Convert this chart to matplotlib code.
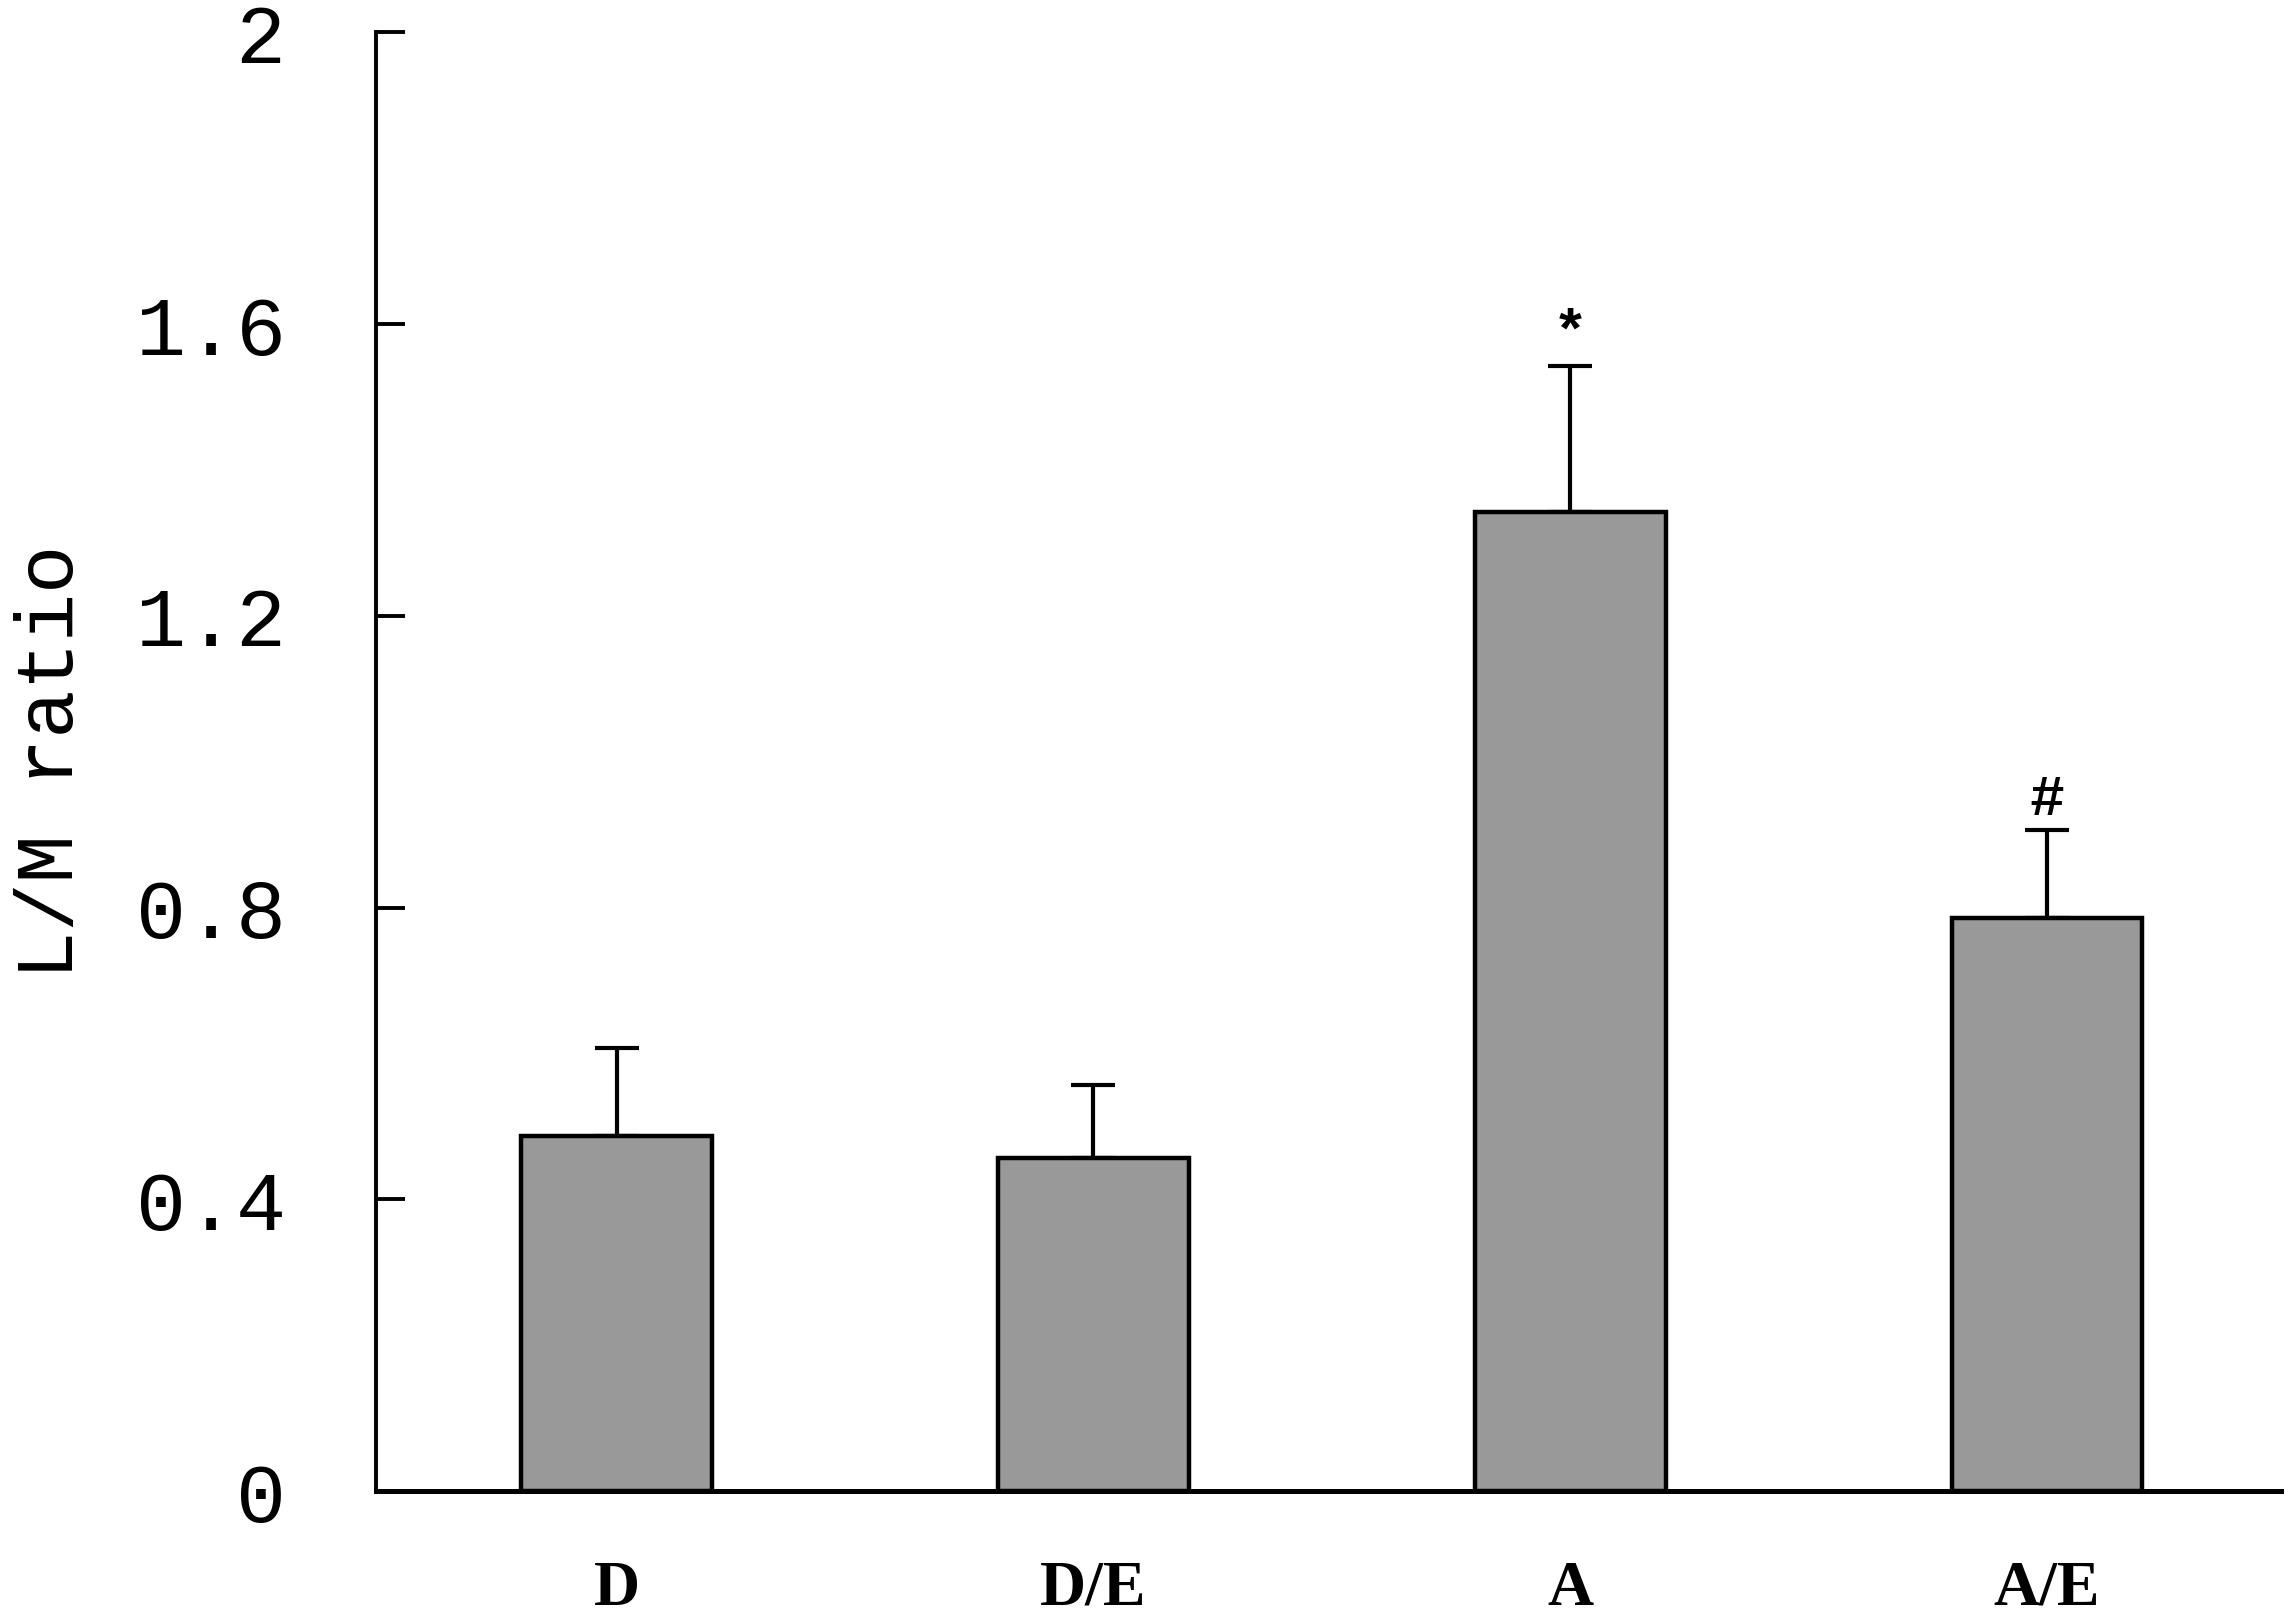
import matplotlib

matplotlib.use("Agg")
import matplotlib.pyplot as plt
import numpy as np

# group labels and L/M ratio values
groups = ["D", "D/E", "A", "A/E"]
means = [0.487, 0.457, 1.343, 0.786]
errors = [0.120, 0.100, 0.200, 0.120]
marks = ["", "", "*", "#"]

yticks = [0, 0.4, 0.8, 1.2, 1.6, 2]
ytick_labels = ["0", "0.4", "0.8", "1.2", "1.6", "2"]

mono = ["Liberation Mono", "DejaVu Sans Mono"]
serif = ["Liberation Serif", "DejaVu Serif"]

fig = plt.figure(figsize=(22.92, 16.19), dpi=100)
ax = fig.add_axes([0.164, 0.079, 0.831, 0.901])

x = np.arange(len(groups))
ax.bar(x, means, width=0.40, color="#999999", edgecolor="black", linewidth=3.2, zorder=2)
ax.errorbar(x, means, yerr=[np.zeros(len(means)), errors], fmt="none",
            ecolor="black", elinewidth=3.0, capsize=16, capthick=3.0, zorder=1)

for xi, m, e, s in zip(x, means, errors, marks):
    if s:
        ax.text(xi, m + e + 0.005, s, ha="center", va="bottom",
                fontsize=42, family=mono, fontweight="bold")

ax.set_xlim(-0.505, 3.49)
ax.set_ylim(0, 2)
ax.set_yticks(yticks)
ax.set_yticklabels(ytick_labels, family=mono, fontsize=60)
ax.set_xticks(x)
ax.set_xticklabels(groups, family=serif, fontsize=46, fontweight="bold")

ax.tick_params(axis="y", direction="in", length=21, width=2.8, pad=65)
ax.tick_params(axis="x", length=0, pad=50)

for side in ["top", "right"]:
    ax.spines[side].set_visible(False)
ax.spines["left"].set_linewidth(2.8)
ax.spines["bottom"].set_linewidth(3.6)

ax.set_ylabel("L/M ratio", family=mono, fontsize=58, va="center")
ax.yaxis.set_label_coords(-0.17, 0.5)

fig.savefig("out.png", dpi=100, facecolor="white")
